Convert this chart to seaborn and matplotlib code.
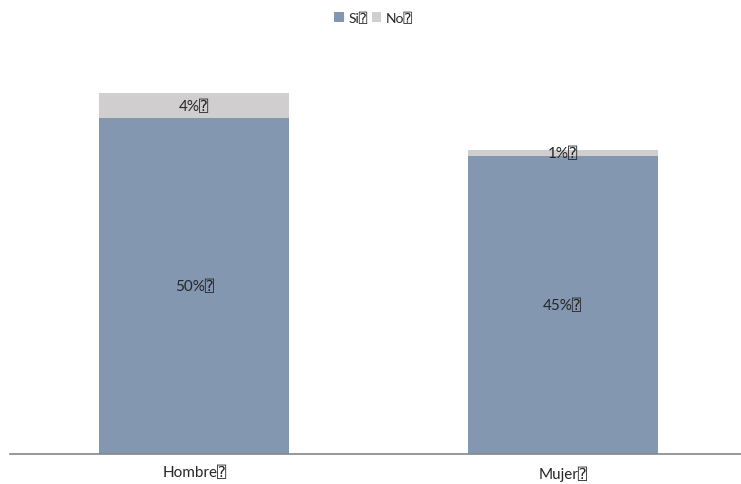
import matplotlib
matplotlib.use("Agg")
import matplotlib.pyplot as plt
import seaborn as sns
import pandas as pd

categories = ["Hombre⍰", "Mujer⍰"]
si_values = [50.0, 44.3]
no_values = [3.7, 1.0]
si_labels = ["50%⍰", "45%⍰"]
no_labels = ["4%⍰", "1%⍰"]
series_names = ["Si⍰", "No⍰"]

si_color = "#8497B0"
no_color = "#D0CECE"

sns.set_style("white")
plt.rcParams["font.family"] = ["Lato", "DejaVu Sans", "DejaVu Sans Mono"]

df = pd.DataFrame({"cat": categories, "si": si_values, "no": no_values})

fig = plt.figure(figsize=(7.41, 4.85), dpi=100)
ax = fig.add_axes([10 / 741, 30 / 485, 737 / 741, 403.2 / 485])

sns.barplot(data=df, x="cat", y="si", color=si_color, width=0.515,
            saturation=1, linewidth=0, ax=ax, label=series_names[0])
sns.barplot(data=df, x="cat", y="no", bottom=df["si"], color=no_color, width=0.515,
            saturation=1, linewidth=0, ax=ax, label=series_names[1])

# etiquetas centradas en cada segmento
for i in range(len(categories)):
    s, n = si_values[i], no_values[i]
    ax.text(i, s / 2, si_labels[i], ha="center", va="center", fontsize=11, color="#262626")
    ax.text(i, s + n / 2, no_labels[i], ha="center", va="center", fontsize=11, color="#262626")

ax.set_ylim(0, 60)
ax.set_xlim(-0.5, 1.5)
ax.set_xlabel("")
ax.set_ylabel("")
ax.set_yticks([])
ax.tick_params(axis="x", length=0, pad=8, labelsize=11, colors="#262626")
for side in ["top", "right", "left"]:
    ax.spines[side].set_visible(False)
ax.spines["bottom"].set_color("#868686")
ax.spines["bottom"].set_linewidth(1.2)

ax.legend(loc="upper center", bbox_to_anchor=(0.5 - 5 / 737, 1.128), ncol=2, frameon=False,
          fontsize=10, handlelength=0.7, handleheight=0.7, handletextpad=0.3, columnspacing=0.3)

fig.savefig("out.png", dpi=100)
